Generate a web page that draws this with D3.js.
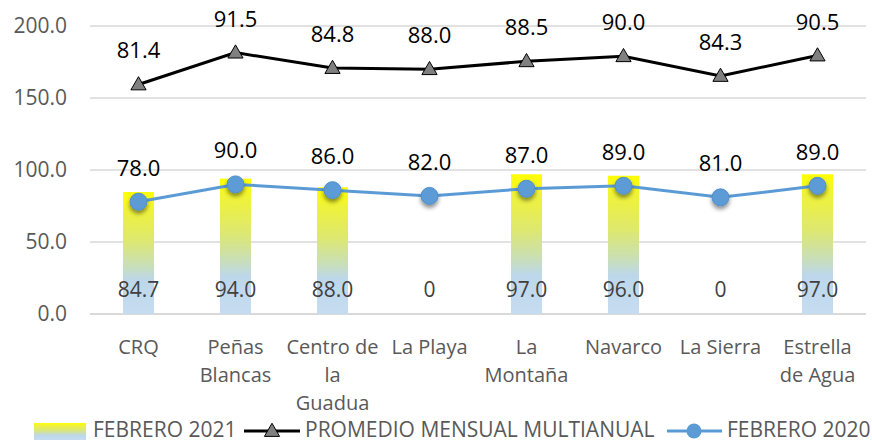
<!DOCTYPE html>
<html>
<head>
<meta charset="utf-8">
<script src="https://cdn.jsdelivr.net/npm/d3@7"></script>
<style>
  body { margin: 0; background: #fff; }
  svg { display: block; font-family: "Open Sans", sans-serif; }
</style>
</head>
<body>
<svg width="872" height="442"></svg>
<script>
var categories = ["CRQ", "Peñas Blancas", "Centro de la Guadua", "La Playa", "La Montaña", "Navarco", "La Sierra", "Estrella de Agua"];
var catLines = [["CRQ"], ["Peñas", "Blancas"], ["Centro de", "la", "Guadua"], ["La Playa"], ["La", "Montaña"], ["Navarco"], ["La Sierra"], ["Estrella", "de Agua"]];
var feb2021 = [84.7, 94.0, 88.0, 0, 97.0, 96.0, 0, 97.0];
var promedio = [81.4, 91.5, 84.8, 88.0, 88.5, 90.0, 84.3, 90.5];
var feb2020 = [78.0, 90.0, 86.0, 82.0, 87.0, 89.0, 81.0, 89.0];
var yTicks = [0, 50, 100, 150, 200];

var svg = d3.select("svg");
var plotL = 90, plotR = 866, plotT = 26, plotB = 314;

var x = d3.scaleBand().domain(categories).range([plotL, plotR]);
var y = d3.scaleLinear().domain([0, 200]).range([plotB, plotT]);
var cx = d => x(d) + x.bandwidth() / 2;
var barW = x.bandwidth() * 0.32;

var defs = svg.append("defs");
var grad = defs.append("linearGradient").attr("id", "barGrad")
    .attr("x1", 0).attr("y1", 0).attr("x2", 0).attr("y2", 1);
[["0%", "#ffff00"], ["15%", "#eff23a"], ["40%", "#dde870"], ["60%", "#c9dfb6"], ["72%", "#bdd7ea"], ["100%", "#c6dcf1"]]
    .forEach(s => grad.append("stop").attr("offset", s[0]).attr("stop-color", s[1]));
var shadow = defs.append("filter").attr("id", "shadow")
    .attr("x", "-50%").attr("y", "-50%").attr("width", "200%").attr("height", "220%");
shadow.append("feDropShadow").attr("dx", 0).attr("dy", 3).attr("stdDeviation", 2)
    .attr("flood-color", "#000").attr("flood-opacity", 0.45);

// grid + y labels
svg.append("g").selectAll("line").data(yTicks).enter().append("line")
    .attr("x1", plotL).attr("x2", plotR)
    .attr("y1", d => y(d)).attr("y2", d => y(d))
    .attr("stroke", "#d9d9d9").attr("stroke-width", d => d === 0 ? 2 : 1.3);
svg.append("g").selectAll("text").data(yTicks).enter().append("text")
    .attr("x", 67).attr("y", d => y(d)).attr("dy", "0.35em")
    .attr("text-anchor", "end").attr("fill", "#595959").attr("font-size", 21)
    .text(d => d.toFixed(1));

// bars (FEBRERO 2021)
svg.append("g").selectAll("rect").data(feb2021).enter().append("rect")
    .attr("x", (d, i) => cx(categories[i]) - barW / 2)
    .attr("width", barW)
    .attr("y", d => y(d))
    .attr("height", d => plotB - y(d))
    .attr("fill", "url(#barGrad)");
svg.append("g").selectAll("text").data(feb2021).enter().append("text")
    .attr("x", (d, i) => cx(categories[i])).attr("y", 297)
    .attr("text-anchor", "middle").attr("fill", "#404040").attr("font-size", 21)
    .text(d => d === 0 ? "0" : d.toFixed(1));

// FEBRERO 2020 line
var line20 = d3.line().x((d, i) => cx(categories[i])).y(d => y(d));
svg.append("path").attr("d", line20(feb2020))
    .attr("fill", "none").attr("stroke", "#5b9bd5").attr("stroke-width", 3);
svg.append("g").selectAll("circle").data(feb2020).enter().append("circle")
    .attr("cx", (d, i) => cx(categories[i])).attr("cy", d => y(d)).attr("r", 8.5)
    .attr("fill", "#5b9bd5").attr("stroke", "#4f8fca").attr("stroke-width", 1)
    .attr("filter", "url(#shadow)");
svg.append("g").selectAll("text").data(feb2020).enter().append("text")
    .attr("x", (d, i) => cx(categories[i])).attr("y", d => y(d) - 26)
    .attr("text-anchor", "middle").attr("fill", "#000").attr("font-size", 22)
    .text(d => d.toFixed(1));

// PROMEDIO line (stacked on FEBRERO 2020 as in the original chart)
var promStack = promedio.map((d, i) => d + feb2020[i]);
svg.append("path").attr("d", line20(promStack))
    .attr("fill", "none").attr("stroke", "#000").attr("stroke-width", 3);
var tri = d3.symbol().type(d3.symbolTriangle).size(100);
svg.append("g").selectAll("path").data(promStack).enter().append("path")
    .attr("d", tri)
    .attr("transform", (d, i) => "translate(" + cx(categories[i]) + "," + (y(d) + 1) + ")")
    .attr("fill", "#808080").attr("stroke", "#000").attr("stroke-width", 1);
svg.append("g").selectAll("text").data(promedio).enter().append("text")
    .attr("x", (d, i) => cx(categories[i])).attr("y", (d, i) => y(promStack[i]) - 26)
    .attr("text-anchor", "middle").attr("fill", "#000").attr("font-size", 22)
    .text(d => d.toFixed(1));

// category labels
var cat = svg.append("g").selectAll("text").data(categories).enter().append("text")
    .attr("x", d => cx(d)).attr("y", 354)
    .attr("text-anchor", "middle").attr("fill", "#595959").attr("font-size", 20);
cat.selectAll("tspan").data((d, i) => catLines[i]).enter().append("tspan")
    .attr("x", function() { return d3.select(this.parentNode).attr("x"); })
    .attr("dy", (d, j) => j === 0 ? 0 : 28)
    .text(d => d);

// legend
var lg = svg.append("g").attr("font-size", 21).attr("fill", "#595959");
lg.append("rect").attr("x", 34).attr("y", 423).attr("width", 52).attr("height", 17).attr("fill", "url(#barGrad)");
lg.append("text").attr("x", 93).attr("y", 437).text("FEBRERO 2021");
lg.append("line").attr("x1", 244).attr("x2", 300).attr("y1", 431).attr("y2", 431)
    .attr("stroke", "#000").attr("stroke-width", 3);
lg.append("path").attr("d", tri).attr("transform", "translate(272,432)")
    .attr("fill", "#808080").attr("stroke", "#000").attr("stroke-width", 1);
lg.append("text").attr("x", 305).attr("y", 437).text("PROMEDIO MENSUAL MULTIANUAL");
lg.append("line").attr("x1", 667).attr("x2", 722).attr("y1", 431).attr("y2", 431)
    .attr("stroke", "#5b9bd5").attr("stroke-width", 3);
lg.append("circle").attr("cx", 694).attr("cy", 431).attr("r", 7.5).attr("fill", "#5b9bd5");
lg.append("text").attr("x", 727).attr("y", 437).text("FEBRERO 2020");
</script>
</body>
</html>
